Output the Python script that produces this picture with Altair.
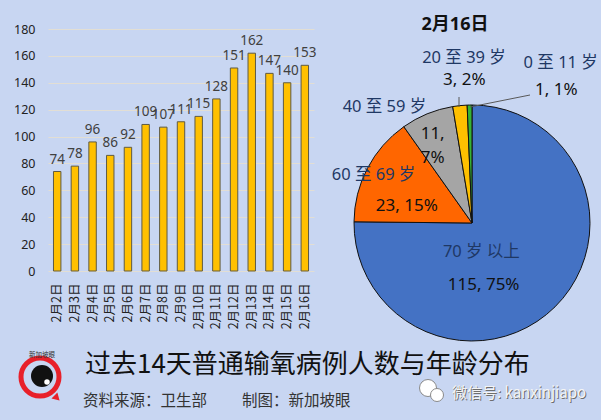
import altair as alt
import pandas as pd

# ---------------- data ----------------
days = ["2月2日", "2月3日", "2月4日", "2月5日", "2月6日", "2月7日", "2月8日", "2月9日",
        "2月10日", "2月11日", "2月12日", "2月13日", "2月14日", "2月15日", "2月16日"]
cases = [74, 78, 96, 86, 92, 109, 107, 111, 115, 128, 151, 162, 147, 140, 153]
y_ticks = [0, 20, 40, 60, 80, 100, 120, 140, 160, 180]

age_groups = ["70 岁 以上", "60 至 69 岁", "40 至 59 岁", "20 至 39 岁", "0 至 11 岁"]
age_counts = [115, 23, 11, 3, 1]
age_colors = ["#4472C4", "#FF6600", "#A5A5A5", "#FFC000", "#36B336"]

pie_title = ["2月16日"]
main_title = ["过去14天普通输氧病例人数与年龄分布"]
source_text = ["资料来源：卫生部"]
maker_text = ["制图：新加坡眼"]
wechat_text = ["微信号: kanxinjiapo"]
logo_text = ["新加坡眼"]

FONT = "Noto Sans, Noto Sans CJK SC"
CJK = "Noto Sans CJK SC"

bar_df = pd.DataFrame({"day": days, "n": cases})
pie_df = pd.DataFrame({"idx": list(range(len(age_groups))), "grp": age_groups, "n": age_counts})
one = pd.DataFrame({"k": [0]})

# ---------------- bar chart ----------------
bx = alt.X("day:N", sort=days, title=None,
           scale=alt.Scale(paddingInner=0.58, paddingOuter=0.31),
           axis=alt.Axis(labelAngle=270, domain=False, ticks=False, labelPadding=12,
                         labelFontSize=12.5, labelColor="#222222", labelFont=CJK,
                         labelOverlap=False, grid=False))
by = alt.Y("n:Q", title=None, scale=alt.Scale(domain=[0, 180], nice=False),
           axis=alt.Axis(values=y_ticks, domain=False, ticks=False, labelPadding=13,
                         labelFontSize=12.5, labelColor="#222222", labelFont=FONT,
                         grid=True, gridColor="#E2DED4", gridWidth=1))

bars = alt.Chart(bar_df).mark_bar(color="#FFC000", stroke="#5E5A44", strokeWidth=1).encode(x=bx, y=by)
bar_labels = alt.Chart(bar_df).mark_text(baseline="bottom", dy=-5, fontSize=13.5, color="#404040",
                                         font=FONT).encode(x=bx, y=by, text="n:Q")

# ---------------- pie ----------------
CX, CY = 424, 194
arcs = alt.Chart(pie_df).mark_arc(outerRadius=118, stroke="#111111", strokeWidth=1).encode(
    theta=alt.Theta("n:Q", stack=True),
    color=alt.Color("grp:N", scale=alt.Scale(domain=age_groups, range=age_colors), legend=None),
    order=alt.Order("idx:Q"),
    x=alt.value(CX), y=alt.value(CY),
)

pie_base = (alt.Chart(pie_df)
            .transform_joinaggregate(total="sum(n)")
            .transform_window(cum="sum(n)", sort=[alt.SortField("idx", order="ascending")])
            .transform_calculate(mid="datum.cum - datum.n / 2",
                                 vlab="datum.n + ', ' + format(datum.n / datum.total * 100, '.0f') + '%'"))

# (slice index, field, radius, dx, dy, size, colour)
label_specs = [
    (0, "grp", 29, -11, 8, 16.5, "#1F3864"),
    (0, "vlab", 62, -32, 18, 17, "#111111"),
    (1, "grp", 110, -1, 3, 16.5, "#1F3864"),
    (1, "vlab", 68, -5, 15, 17, "#111111"),
    (2, "grp", 125, -40, 0, 16.5, "#1F3864"),
    (2, "vlab", 85, -7, -10, 17, "#111111"),
    (3, "grp", 166, 9, 0, 16.5, "#1F3864"),
    (3, "vlab", 144, 7, 0, 17, "#111111"),
    (4, "grp", 160, 92, 0, 16.5, "#1F3864"),
    (4, "vlab", 133, 87, 0, 17, "#111111"),
]
pie_labels = []
for i, fld, r, dx, dy, fs, col in label_specs:
    kw = dict(radius=r, dx=dx, dy=dy, fontSize=fs, color=col, font=FONT,
              align="center", baseline="middle")
    if i == 2 and fld == "vlab":
        kw.update(lineBreak=" ", lineHeight=24)
    pie_labels.append(
        pie_base.transform_filter(alt.datum.idx == i).mark_text(**kw).encode(
            theta=alt.Theta("mid:Q"), text=f"{fld}:N", x=alt.value(CX), y=alt.value(CY)))

leader1 = alt.Chart(one).mark_rule(color="#595959", strokeWidth=1).encode(
    x=alt.value(411), x2=alt.value(411), y=alt.value(68), y2=alt.value(78))
leader2 = alt.Chart(one).mark_rule(color="#595959", strokeWidth=1).encode(
    x=alt.value(482), x2=alt.value(422), y=alt.value(66), y2=alt.value(78))

ptitle = alt.Chart(pd.DataFrame({"t": pie_title})).mark_text(
    fontSize=18, fontWeight="bold", font=FONT, color="#111111", baseline="middle").encode(
    x=alt.value(407), y=alt.value(-4), text="t:N")

# ---------------- footer ----------------
def txt(vals, x, y, **kw):
    return alt.Chart(pd.DataFrame({"t": vals})).mark_text(align="left", baseline="middle", **kw).encode(
        x=alt.value(x), y=alt.value(y), text="t:N")

f_title = txt(main_title, 37, 336, fontSize=26, font=CJK, color="#111111")
f_src = txt(source_text, 35, 372, fontSize=15.5, font=CJK, color="#333333")
f_mk = txt(maker_text, 194, 372, fontSize=15.5, font=CJK, color="#333333")
f_wx_shadow = txt(wechat_text, 405, 365, fontSize=15, font=CJK, color="#6E6E6E")
f_wx = txt(wechat_text, 404, 364, fontSize=15, font=CJK, color="#F4F4F4")

def dot(x, y, size, **kw):
    return alt.Chart(one).mark_point(**kw).encode(x=alt.value(x), y=alt.value(y), size=alt.value(size))

logo = [
    dot(9, 369, 70, shape="triangle-down", filled=True, color="#E8202A", angle=315, opacity=1),
    dot(-8, 348, 1444, shape="circle", filled=False, stroke="#E8202A", strokeWidth=5, opacity=1),
    dot(-6, 347, 484, shape="circle", filled=True, color="#111111", opacity=1),
    dot(-1, 353, 30, shape="circle", filled=True, color="#FFFFFF", opacity=1),
    txt(logo_text, -19, 326, fontSize=6.5, font=CJK, color="#333333"),
]
wx_icon = [
    dot(380, 359, 289, shape="circle", filled=True, color="#FFFFFF", stroke="#8A8A8A", strokeWidth=1, opacity=1),
    dot(389, 366, 169, shape="circle", filled=True, color="#FFFFFF", stroke="#8A8A8A", strokeWidth=1, opacity=1),
]

chart = alt.layer(
    bars, bar_labels, arcs, *pie_labels, leader1, leader2, ptitle,
    f_title, f_src, f_mk, f_wx_shadow, f_wx, *logo, *wx_icon
).properties(
    width=266, height=242,
    padding={"left": 48, "top": 29, "right": 287, "bottom": 149},
    autosize=alt.AutoSizeParams(type="none"),
    background="#C8D6F2",
).configure_view(strokeWidth=0)

chart.save("out.html", embed_options={"renderer": "svg", "actions": False})
